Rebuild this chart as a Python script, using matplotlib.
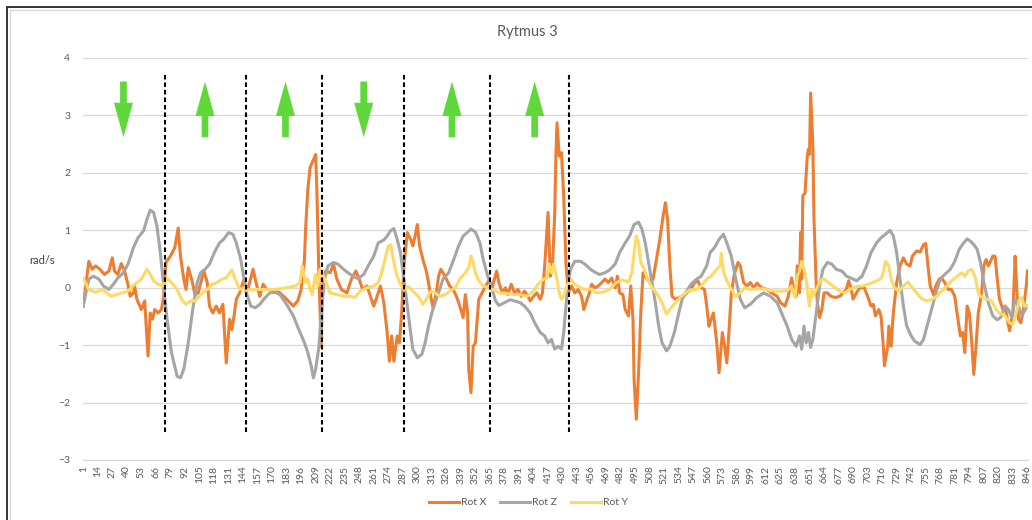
import numpy as np
import matplotlib.pyplot as plt
from matplotlib.patches import Rectangle

plt.rcParams['font.family'] = ['Lato', 'DejaVu Sans']

# values (sample index, rad/s)
rx_x = [1, 6, 9, 12, 16, 20, 24, 27, 29, 32, 35, 38, 41, 43, 46, 47, 49, 53, 56, 59, 61, 63, 65, 68, 71, 73, 75, 79,
        83, 86, 88, 91, 93, 95, 98, 101, 104, 107, 109, 112, 114, 117, 120, 123, 126, 129, 132, 134, 136, 138, 141,
        145, 147, 150, 153, 156, 159, 162, 165, 171, 177, 183, 189, 193, 196, 199, 200, 202, 204, 207, 209, 210, 212,
        214, 215, 218, 222, 225, 228, 232, 237, 241, 245, 248, 251, 255, 258, 261, 264, 267, 270, 273, 275, 277, 279,
        282, 284, 286, 288, 291, 294, 296, 298, 300, 302, 305, 308, 310, 312, 314, 317, 319, 321, 323, 326, 329, 332,
        335, 338, 341, 343, 345, 346, 348, 350, 352, 355, 358, 361, 364, 367, 369, 371, 373, 376, 379, 381, 384, 387,
        390, 393, 396, 399, 401, 404, 407, 410, 412, 414, 417, 419, 421, 423, 424, 425, 427, 429, 431, 433, 435, 438,
        441, 444, 447, 449, 452, 454, 456, 459, 462, 465, 468, 471, 474, 477, 479, 481, 484, 486, 489, 491, 493, 494,
        496, 498, 500, 502, 505, 508, 511, 514, 517, 520, 522, 524, 526, 528, 531, 534, 538, 541, 545, 548, 551, 554,
        557, 559, 561, 563, 565, 568, 570, 573, 575, 577, 579, 581, 584, 587, 589, 592, 595, 598, 601, 604, 608, 613,
        617, 622, 625, 629, 632, 635, 637, 639, 640, 642, 643, 644, 645, 647, 649, 650, 651, 652, 654, 655, 657, 658,
        660, 662, 664, 667, 670, 674, 678, 681, 684, 686, 688, 690, 693, 696, 700, 703, 706, 708, 710, 713, 715, 717,
        718, 721, 722, 724, 726, 729, 732, 735, 738, 741, 743, 747, 750, 753, 755, 757, 759, 762, 764, 767, 769, 772,
        775, 778, 781, 783, 786, 788, 790, 792, 794, 796, 798, 800, 802, 805, 807, 809, 811, 813, 815, 817, 819, 821,
        824, 826, 828, 830, 833, 835, 836, 838, 840, 842, 845, 846]
rx_y = [-0.32, 0.46, 0.32, 0.38, 0.32, 0.23, 0.29, 0.52, 0.29, 0.23, 0.42, 0.29, 0.06, -0.15, -0.09, 0.03, -0.2, -0.38,
        -0.23, -1.19, -0.44, -0.55, -0.38, -0.44, -0.38, -0.15, 0.44, 0.55, 0.70, 1.04, 0.55, 0.15, -0.03, 0.35, 0.15,
        -0.12, -0.09, 0.15, 0.29, 0.09, -0.32, -0.44, -0.32, -0.44, -0.29, -1.31, -0.55, -0.73, -0.49, -0.2, -0.09,
        0.15, -0.09, 0.09, 0.32, 0.06, -0.15, 0.06, -0.03, -0.04, -0.09, -0.2, -0.32, -0.23, -0.03, 0.49, 1.02, 1.71,
        2.09, 2.23, 2.32, 1.77, 0.15, -1.02, 0.03, 0.29, 0.26, 0.41, 0.15, -0.03, -0.09, 0.15, 0.29, 0.15, -0.03, 0.03,
        -0.15, -0.32, -0.15, 0.03, -0.26, -0.78, -1.28, -0.84, -1.28, -0.84, -0.96, -0.44, 0.38, 0.96, 0.84, 0.73, 0.90,
        1.10, 0.73, 0.49, 0.29, 0.09, -0.15, -0.35, -0.09, 0.2, 0.32, 0.26, 0.15, 0.03, -0.03, -0.15, -0.32, -0.52,
        -0.12, -0.44, -1.42, -1.83, -1.02, -0.96, -0.2, -0.09, 0.03, 0.12, 0.0, 0.15, 0.29, 0.09, -0.09, 0.0, -0.12,
        0.06, -0.09, -0.03, -0.15, -0.06, -0.15, -0.23, -0.15, -0.09, -0.2, -0.09, 0.38, 1.31, 0.2, 0.38, 1.31, 2.29,
        2.87, 2.29, 2.35, 1.6, 0.44, -0.09, 0.03, -0.09, -0.03, -0.15, -0.38, -0.2, -0.09, 0.06, 0.0, 0.03, 0.09, 0.15,
        0.09, 0.17, 0.0, 0.2, -0.09, -0.12, -0.38, -0.49, 0.03, -0.55, -1.6, -2.29, -1.48, -0.44, 0.26, 0.17, 0.09,
        0.15, 0.49, 0.84, 1.25, 1.48, 1.19, 0.38, -0.15, -0.2, -0.17, -0.15, -0.09, -0.03, 0.09, 0.12, 0.0, -0.03,
        -0.32, -0.67, -0.55, -0.44, -0.96, -1.48, -0.78, -1.02, -1.31, -0.73, -0.09, 0.26, 0.44, 0.38, 0.09, 0.03, 0.09,
        0.0, 0.08, 0.0, -0.03, -0.09, -0.15, -0.26, -0.32, -0.15, 0.17, -0.03, -0.15, 0.38, -0.09, 0.96, 0.15, 1.6,
        1.65, 2.29, 2.41, 2.32, 3.39, 2.47, 1.19, 0.03, -0.26, -0.52, -0.38, -0.09, -0.09, -0.15, -0.17, -0.15, -0.09,
        -0.03, 0.12, 0.0, -0.2, -0.09, 0.0, 0.0, -0.15, -0.32, -0.29, -0.49, -0.38, -0.5, -1.0, -1.36, -1.02, -0.67,
        -1.02, -0.44, 0.09, 0.38, 0.52, 0.41, 0.38, 0.55, 0.64, 0.62, 0.75, 0.77, 0.38, 0.03, -0.12, 0.03, 0.15, 0.17,
        0.09, -0.03, -0.03, -0.15, -0.44, -0.84, -0.78, -1.13, -0.32, -0.44, -0.9, -1.51, -1.02, -0.44, -0.09, 0.38,
        0.49, 0.38, 0.46, 0.55, 0.55, 0.15, -0.2, -0.38, -0.32, -0.55, -0.75, -0.44, 0.55, 0.15, -0.55, -0.61, -0.44,
        0.03, 0.29]

rz_x = [1, 6, 10, 15, 19, 24, 28, 32, 37, 41, 46, 50, 55, 58, 61, 64, 67, 70, 73, 76, 80, 85, 88, 91, 95, 99, 103,
        106, 110, 114, 119, 123, 127, 131, 135, 138, 142, 144, 147, 151, 155, 159, 164, 168, 173, 177, 183, 189, 194,
        199, 202, 205, 207, 209, 212, 214, 217, 220, 225, 229, 234, 238, 243, 247, 252, 256, 261, 265, 270, 273, 276,
        279, 282, 285, 288, 291, 294, 296, 300, 304, 307, 310, 313, 316, 319, 323, 328, 332, 337, 341, 344, 348, 352,
        356, 359, 363, 367, 370, 373, 379, 383, 387, 392, 396, 401, 405, 410, 414, 417, 420, 423, 426, 429, 431, 434,
        437, 441, 446, 450, 455, 459, 463, 468, 472, 477, 481, 486, 490, 494, 498, 501, 504, 507, 510, 513, 516, 519,
        523, 526, 530, 534, 537, 541, 545, 550, 554, 559, 562, 566, 570, 574, 577, 581, 585, 589, 593, 598, 604, 610,
        616, 622, 626, 631, 635, 639, 642, 644, 646, 648, 650, 652, 654, 657, 660, 663, 667, 671, 675, 680, 684, 689,
        693, 698, 702, 706, 711, 715, 719, 723, 726, 729, 732, 735, 738, 742, 745, 750, 753, 757, 761, 765, 768, 772,
        777, 781, 785, 789, 792, 795, 798, 801, 804, 807, 811, 815, 819, 822, 826, 829, 832, 835, 838, 841, 844, 846]
rz_y = [-0.32, 0.15, 0.2, 0.15, 0.03, -0.03, 0.06, 0.17, 0.26, 0.41, 0.70, 0.87, 0.99, 1.19, 1.35, 1.31, 1.07, 0.61,
        0.03, -0.55, -1.13, -1.54, -1.57, -1.42, -0.96, -0.38, 0.09, 0.26, 0.32, 0.41, 0.64, 0.78, 0.85, 0.96, 0.93,
        0.78, 0.49, 0.26, -0.09, -0.32, -0.35, -0.29, -0.17, -0.09, -0.08, -0.12, -0.29, -0.49, -0.73, -0.96, -1.13,
        -1.36, -1.57, -1.42, -1.02, -0.44, 0.15, 0.38, 0.44, 0.41, 0.32, 0.26, 0.19, 0.16, 0.23, 0.38, 0.55, 0.78, 0.83,
        0.90, 0.99, 1.03, 0.84, 0.6, 0.15, -0.32, -0.78, -1.07, -1.22, -1.16, -0.96, -0.67, -0.44, -0.26, -0.09, 0.15,
        0.26, 0.46, 0.73, 0.90, 0.95, 1.02, 0.97, 0.78, 0.49, 0.2, -0.03, -0.23, -0.31, -0.25, -0.21, -0.23, -0.26,
        -0.32, -0.44, -0.61, -0.78, -0.84, -0.96, -0.9, -1.07, -1.02, -1.07, -0.78, -0.09, 0.32, 0.46, 0.46, 0.41, 0.32,
        0.27, 0.23, 0.26, 0.31, 0.41, 0.61, 0.78, 0.9, 1.10, 1.14, 1.02, 0.78, 0.44, 0.09, -0.26, -0.67, -0.96, -1.10,
        -1.02, -0.78, -0.44, -0.2, -0.06, 0.06, 0.15, 0.2, 0.38, 0.61, 0.70, 0.84, 0.93, 0.78, 0.55, 0.15, -0.2, -0.35,
        -0.29, -0.17, -0.09, -0.15, -0.26, -0.44, -0.67, -0.9, -1.02, -0.84, -1.07, -0.67, -0.96, -0.78, -1.04, -0.9,
        -0.44, 0.03, 0.32, 0.44, 0.41, 0.32, 0.29, 0.2, 0.16, 0.12, 0.2, 0.38, 0.61, 0.78, 0.87, 0.93, 1.0, 0.9, 0.61,
        0.15, -0.32, -0.67, -0.84, -0.93, -0.99, -0.9, -0.61, -0.32, -0.03, 0.15, 0.23, 0.32, 0.46, 0.67, 0.78, 0.85,
        0.81, 0.75, 0.67, 0.44, 0.09, -0.26, -0.49, -0.56, -0.52, -0.32, -0.38, -0.52, -0.2, -0.32, -0.49, -0.38, -0.32]

ry_x = [1, 6, 12, 18, 22, 26, 34, 41, 47, 53, 58, 61, 64, 68, 72, 76, 80, 85, 89, 93, 97, 101, 106, 112, 116, 120,
        125, 129, 134, 137, 141, 145, 147, 156, 165, 174, 183, 191, 195, 197, 200, 202, 204, 206, 208, 209, 211, 213,
        216, 219, 222, 228, 234, 240, 244, 249, 255, 261, 265, 268, 271, 274, 276, 278, 281, 284, 288, 292, 296, 301,
        305, 308, 312, 316, 320, 325, 329, 334, 338, 343, 346, 348, 350, 352, 355, 359, 364, 368, 374, 380, 386, 392,
        398, 404, 408, 413, 416, 418, 420, 422, 425, 427, 429, 431, 434, 437, 441, 446, 450, 455, 460, 466, 472, 478,
        484, 489, 492, 494, 496, 498, 500, 503, 506, 510, 514, 519, 523, 526, 531, 535, 540, 544, 550, 554, 559, 563,
        568, 571, 572, 574, 577, 581, 585, 589, 593, 598, 604, 610, 616, 622, 628, 632, 635, 638, 640, 642, 644, 646,
        648, 650, 651, 653, 654, 657, 660, 663, 668, 672, 678, 683, 687, 693, 699, 705, 710, 714, 716, 718, 719, 722,
        724, 727, 731, 735, 739, 743, 748, 752, 756, 761, 765, 769, 774, 778, 783, 787, 790, 793, 796, 799, 802, 805,
        810, 814, 818, 821, 826, 830, 833, 836, 839, 841, 843, 846]
ry_y = [0.17, -0.03, -0.08, -0.03, -0.09, -0.15, -0.1, -0.06, 0.06, 0.15, 0.32, 0.23, 0.12, 0.06, 0.03, 0.16, 0.09,
        -0.03, -0.2, -0.29, -0.23, -0.23, -0.12, -0.03, 0.06, 0.08, 0.15, 0.17, 0.31, 0.15, -0.03, 0.0, -0.04, -0.03,
        -0.03, -0.03, 0.0, 0.03, 0.09, 0.38, 0.09, 0.15, -0.03, -0.12, 0.15, 0.23, 0.03, 0.32, 0.2, 0.06, -0.09, -0.12,
        -0.15, -0.15, -0.17, -0.06, 0.0, 0.03, 0.09, 0.26, 0.49, 0.73, 0.75, 0.55, 0.26, 0.09, -0.04, 0.02, -0.06,
        -0.15, -0.29, -0.2, -0.06, -0.09, -0.15, -0.12, -0.06, 0.0, 0.15, 0.26, 0.35, 0.55, 0.44, 0.26, 0.12, 0.03,
        0.0, -0.04, -0.09, -0.1, -0.12, -0.12, -0.15, -0.06, 0.06, 0.15, 0.17, 0.41, 0.26, 0.41, 0.15, -0.09, -0.2,
        -0.15, 0.03, 0.15, 0.06, 0.0, -0.03, -0.02, -0.09, -0.08, -0.03, 0.09, 0.13, 0.1, 0.26, 0.61, 0.9, 0.78, 0.44,
        0.32, 0.15, 0.0, -0.09, -0.26, -0.46, -0.38, -0.26, -0.17, -0.09, -0.04, -0.03, 0.03, 0.15, 0.2, 0.32, 0.38,
        0.6, 0.28, 0.12, -0.03, -0.15, -0.09, 0.0, -0.03, -0.02, -0.02, -0.05, -0.06, -0.06, -0.04, 0.03, -0.17, 0.2,
        0.29, 0.46, 0.32, 0.15, -0.2, -0.32, -0.03, -0.15, -0.03, 0.09, 0.16, 0.09, 0.03, -0.06, -0.09, -0.03, 0.02,
        0.03, 0.07, 0.11, 0.15, 0.2, 0.35, 0.46, 0.38, 0.15, 0.0, -0.06, 0.03, 0.1, 0.0, -0.12, -0.2, -0.23, -0.2,
        -0.15, -0.06, 0.03, 0.12, 0.2, 0.26, 0.2, 0.29, 0.32, 0.2, -0.09, -0.17, -0.2, -0.23, -0.38, -0.44, -0.49,
        -0.61, -0.64, -0.44, -0.2, -0.17, -0.32, -0.32]

n_samples = 846
phase_marks = [74, 147, 215, 288, 365, 436]
arrow_pos = [37, 110, 182, 252, 331, 405]
arrow_up = [False, True, True, False, True, True]

fig = plt.figure(figsize=(10.32, 5.2), dpi=100)
ax = fig.add_axes([0.0801, 0.1154, 0.9160, 0.7731])

ax.plot(rx_x, rx_y, color='#ED7D31', lw=2.2, label='Rot X', solid_joinstyle='round')
ax.plot(rz_x, rz_y, color='#A5A5A5', lw=2.2, label='Rot Z', solid_joinstyle='round')
ax.plot(ry_x, ry_y, color='#FFD966', lw=2.2, label='Rot Y', solid_joinstyle='round')

ax.vlines(phase_marks, -2.52, 3.72, colors='black', linestyles=(0, (2.2, 1.4)), lw=1.5, zorder=5)

for xa, up in zip(arrow_pos, arrow_up):
    if up:
        ax.arrow(xa, 2.62, 0, 0.97, width=6, head_width=17, head_length=0.6,
                 length_includes_head=True, color='#5FD83A', lw=0, zorder=6)
    else:
        ax.arrow(xa, 3.59, 0, -0.97, width=6, head_width=17, head_length=0.6,
                 length_includes_head=True, color='#5FD83A', lw=0, zorder=6)

ax.set_xlim(0.5, n_samples + 0.5)
ax.set_ylim(-3, 4)
ax.set_yticks(range(-3, 5))
ax.set_xticks(np.arange(1, n_samples + 1, 13))
ax.tick_params(axis='x', labelrotation=90, length=0, labelsize=7.5, colors='#595959', pad=4)
ax.tick_params(axis='y', length=0, labelsize=7.5, colors='#595959', pad=9)
ax.grid(axis='y', color='#D9D9D9', lw=0.9)
ax.set_axisbelow(True)
for s in ['top', 'right', 'left']:
    ax.spines[s].set_visible(False)
ax.spines['bottom'].set_color('#D9D9D9')

fig.text(0.511, 0.938, 'Rytmus 3', ha='center', va='center', fontsize=10.5, color='#595959')
fig.text(0.041, 0.5, 'rad/s', ha='center', va='center', fontsize=8, color='#404040')

fig.legend(loc='center', bbox_to_anchor=(0.512, 0.033), ncol=3, frameon=False, fontsize=7.5,
           handlelength=2.9, handletextpad=0.2, columnspacing=1.3, labelcolor='#595959')

# outer frame (dark) and the chart-area border (light)
fig.patches.append(Rectangle((0.0068, -0.05), 1.1, 1.036, transform=fig.transFigure,
                             fill=False, ec='#262626', lw=1.3))
fig.patches.append(Rectangle((0.0095, -0.05), 1.1, 1.031, transform=fig.transFigure,
                             fill=False, ec='#D9D9D9', lw=1.0))

fig.savefig('out.png', dpi=100)
